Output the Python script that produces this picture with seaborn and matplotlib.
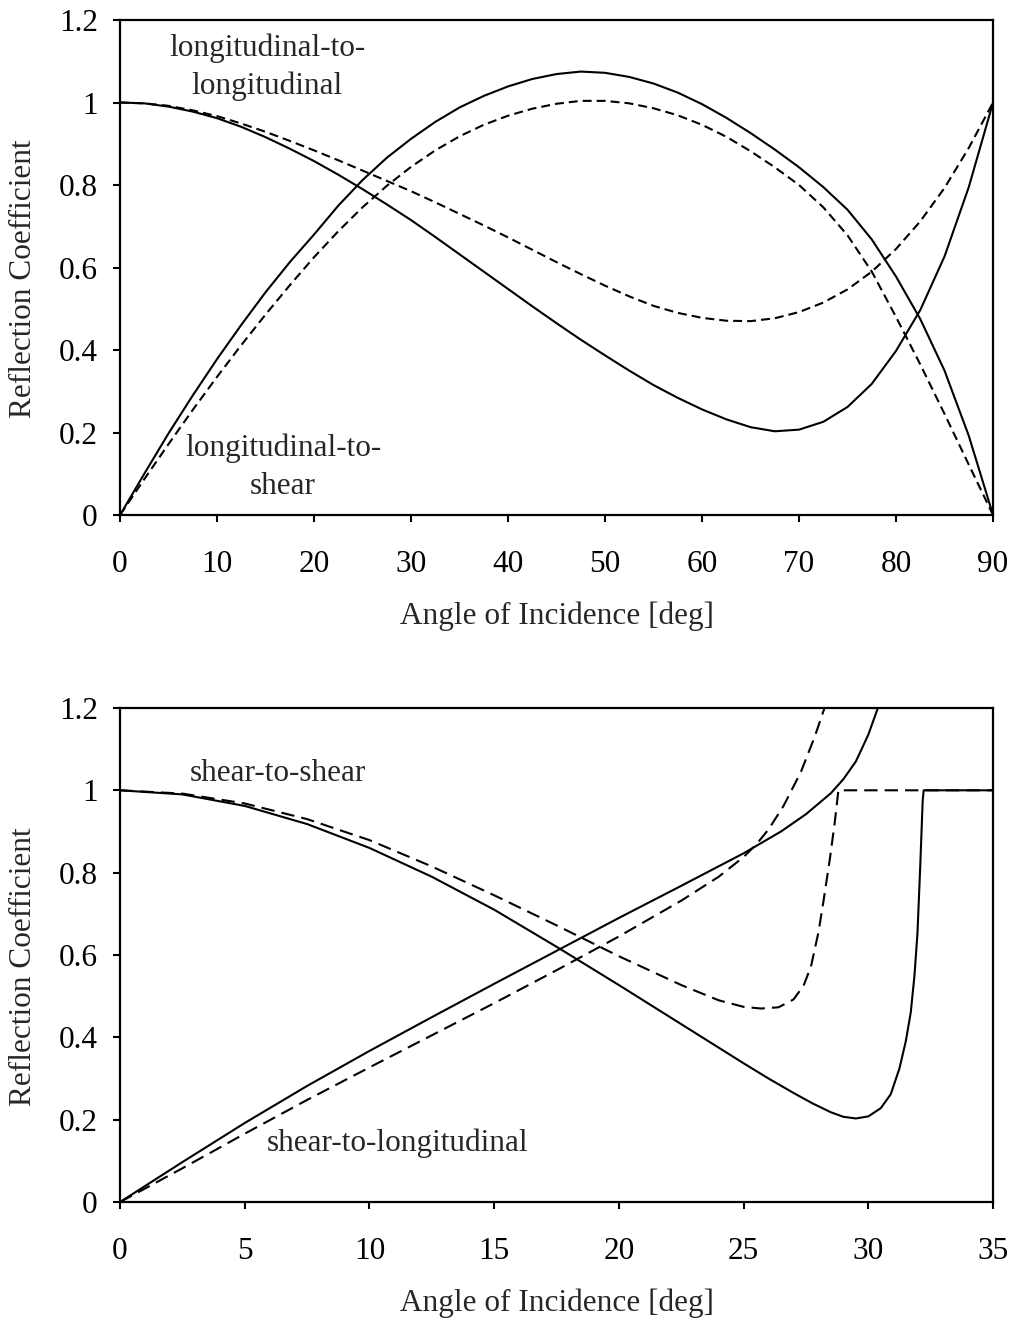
import matplotlib
matplotlib.use('Agg')
import matplotlib.pyplot as plt
import seaborn as sns

# Top panel: longitudinal incidence (angles in deg)
top_x = [0, 2.5, 5, 7.5, 10, 12.5, 15, 17.5, 20, 22.5, 25, 27.5, 30, 32.5, 35, 37.5, 40, 42.5, 45,
         47.5, 50, 52.5, 55, 57.5, 60, 62.5, 65, 67.5, 70, 72.5, 75, 77.5, 80, 82.5, 85, 87.5, 90]

ll_solid = [1.000, 0.998, 0.990, 0.978, 0.962, 0.941, 0.916, 0.888, 0.858, 0.825, 0.790, 0.753,
            0.715, 0.674, 0.632, 0.590, 0.548, 0.506, 0.465, 0.425, 0.387, 0.350, 0.315, 0.284,
            0.256, 0.232, 0.213, 0.203, 0.207, 0.226, 0.262, 0.318, 0.398, 0.497, 0.627, 0.795,
            1.000]
ll_dash = [1.000, 0.998, 0.992, 0.981, 0.967, 0.949, 0.929, 0.907, 0.884, 0.860, 0.835, 0.810,
           0.785, 0.758, 0.730, 0.702, 0.673, 0.643, 0.613, 0.584, 0.556, 0.530, 0.507, 0.490,
           0.478, 0.471, 0.470, 0.477, 0.492, 0.515, 0.547, 0.590, 0.645, 0.712, 0.793, 0.890,
           1.000]
ls_solid = [0.000, 0.100, 0.198, 0.290, 0.378, 0.461, 0.540, 0.613, 0.680, 0.750, 0.812, 0.866,
            0.912, 0.953, 0.988, 1.016, 1.039, 1.057, 1.069, 1.075, 1.072, 1.062, 1.046, 1.024,
            0.996, 0.963, 0.926, 0.886, 0.843, 0.795, 0.740, 0.668, 0.578, 0.475, 0.350, 0.192,
            0.000]
ls_dash = [0.000, 0.087, 0.172, 0.255, 0.335, 0.412, 0.486, 0.557, 0.625, 0.688, 0.746, 0.798,
           0.844, 0.884, 0.918, 0.946, 0.968, 0.985, 0.997, 1.004, 1.004, 0.998, 0.986, 0.969,
           0.946, 0.917, 0.882, 0.843, 0.800, 0.746, 0.678, 0.590, 0.480, 0.365, 0.245, 0.122,
           0.000]

# Bottom panel: shear incidence
ss_solid_x = [0, 2.5, 5, 7.5, 10, 12.5, 15, 17.5, 20, 22.5, 25, 26, 27, 27.75, 28.5, 29, 29.5, 30,
              30.5, 30.9, 31.25, 31.5, 31.7, 31.85, 31.97, 32.08, 32.18, 32.22, 35]
ss_solid_y = [1.000, 0.990, 0.962, 0.918, 0.860, 0.790, 0.710, 0.620, 0.527, 0.432, 0.337, 0.300,
              0.265, 0.240, 0.218, 0.207, 0.203, 0.208, 0.228, 0.262, 0.325, 0.390, 0.460, 0.550,
              0.653, 0.814, 0.976, 1.000, 1.000]

ss_dash_x = [0, 2.5, 5, 7.5, 10, 12.5, 15, 17.5, 20, 22.5, 24, 25, 25.7, 26.4, 27, 27.4, 27.7, 28,
             28.2, 28.45, 28.65, 28.8, 35]
ss_dash_y = [1.000, 0.992, 0.968, 0.930, 0.879, 0.815, 0.745, 0.672, 0.597, 0.527, 0.490, 0.474,
             0.470, 0.473, 0.492, 0.525, 0.572, 0.655, 0.730, 0.830, 0.920, 1.000, 1.000]

sl_solid_x = [0, 2.5, 5, 7.5, 10, 12.5, 15, 17.5, 20, 22.5, 25, 26.5, 27.5, 28.5, 29, 29.5, 30, 30.5]
sl_solid_y = [0.000, 0.097, 0.192, 0.282, 0.367, 0.449, 0.530, 0.610, 0.690, 0.768, 0.847, 0.900,
              0.942, 0.993, 1.027, 1.070, 1.135, 1.220]

sl_dash_x = [0, 2.5, 5, 7.5, 10, 12.5, 15, 17.5, 20, 22.5, 24, 25, 25.5, 26, 26.6, 27.3, 27.85, 28.3]
sl_dash_y = [0.000, 0.082, 0.166, 0.248, 0.327, 0.405, 0.483, 0.563, 0.645, 0.732, 0.790, 0.838,
             0.868, 0.905, 0.962, 1.045, 1.130, 1.210]

sns.set_style('ticks')
plt.rcParams['font.family'] = ['Liberation Serif', 'DejaVu Serif']
plt.rcParams['font.size'] = 22.5

fig = plt.figure(figsize=(10.13, 13.25), dpi=100)
ax1 = fig.add_axes([0.1185, 0.6113, 0.8618, 0.3736])
ax2 = fig.add_axes([0.1185, 0.0928, 0.8618, 0.3729])

lw = 1.5
short_dash = (0, (4.3, 2.4))
long_dash = (0, (6.4, 3.4))

sns.lineplot(x=top_x, y=ll_solid, ax=ax1, color='black', lw=lw, sort=False, estimator=None)
sns.lineplot(x=top_x, y=ll_dash, ax=ax1, color='black', lw=lw, ls=short_dash, sort=False, estimator=None)
sns.lineplot(x=top_x, y=ls_solid, ax=ax1, color='black', lw=lw, sort=False, estimator=None)
sns.lineplot(x=top_x, y=ls_dash, ax=ax1, color='black', lw=lw, ls=short_dash, sort=False, estimator=None)

sns.lineplot(x=ss_solid_x, y=ss_solid_y, ax=ax2, color='black', lw=lw, sort=False, estimator=None)
sns.lineplot(x=ss_dash_x, y=ss_dash_y, ax=ax2, color='black', lw=lw, ls=long_dash, sort=False, estimator=None)
sns.lineplot(x=sl_solid_x, y=sl_solid_y, ax=ax2, color='black', lw=lw, sort=False, estimator=None)
sns.lineplot(x=sl_dash_x, y=sl_dash_y, ax=ax2, color='black', lw=lw, ls=long_dash, sort=False, estimator=None)

ax1.set_xlim(0, 90)
ax1.set_xticks(range(0, 91, 10))
ax2.set_xlim(0, 35)
ax2.set_xticks(range(0, 36, 5))

for ax in (ax1, ax2):
    ax.set_ylim(0, 1.2)
    ax.set_yticks([0, 0.2, 0.4, 0.6, 0.8, 1.0, 1.2])
    ax.set_yticklabels(['0', '0.2', '0.4', '0.6', '0.8', '1', '1.2'])
    for side in ['left', 'right', 'top', 'bottom']:
        ax.spines[side].set_visible(True)
        ax.spines[side].set_linewidth(1.6)
        ax.spines[side].set_color('black')
    ax.tick_params(axis='x', direction='out', length=5, width=1.5, pad=20, labelsize=22.5, colors='black')
    ax.tick_params(axis='y', direction='out', length=5, width=1.5, pad=11, labelsize=22.5, colors='black')
    ax.set_xlabel('Angle of Incidence [deg]', fontsize=22.5, va='center')
    ax.set_ylabel('Reflection Coefficient', fontsize=22.5, va='center')
    ax.xaxis.set_label_coords(0.5, -0.205)
    ax.yaxis.set_label_coords(-0.111, 0.477)

ax1.text(15.15, 1.086, 'longitudinal-to-\nlongitudinal', ha='center', va='center',
         multialignment='center', linespacing=1.4, fontsize=22.5)
ax1.text(16.8, 0.116, 'longitudinal-to-\nshear', ha='center', va='center',
         multialignment='center', linespacing=1.4, fontsize=22.5)
ax2.text(6.32, 1.042, 'shear-to-shear', ha='center', va='center', fontsize=22.5)
ax2.text(11.13, 0.143, 'shear-to-longitudinal', ha='center', va='center', fontsize=22.5)

fig.savefig('out.png', dpi=100, facecolor='white')
